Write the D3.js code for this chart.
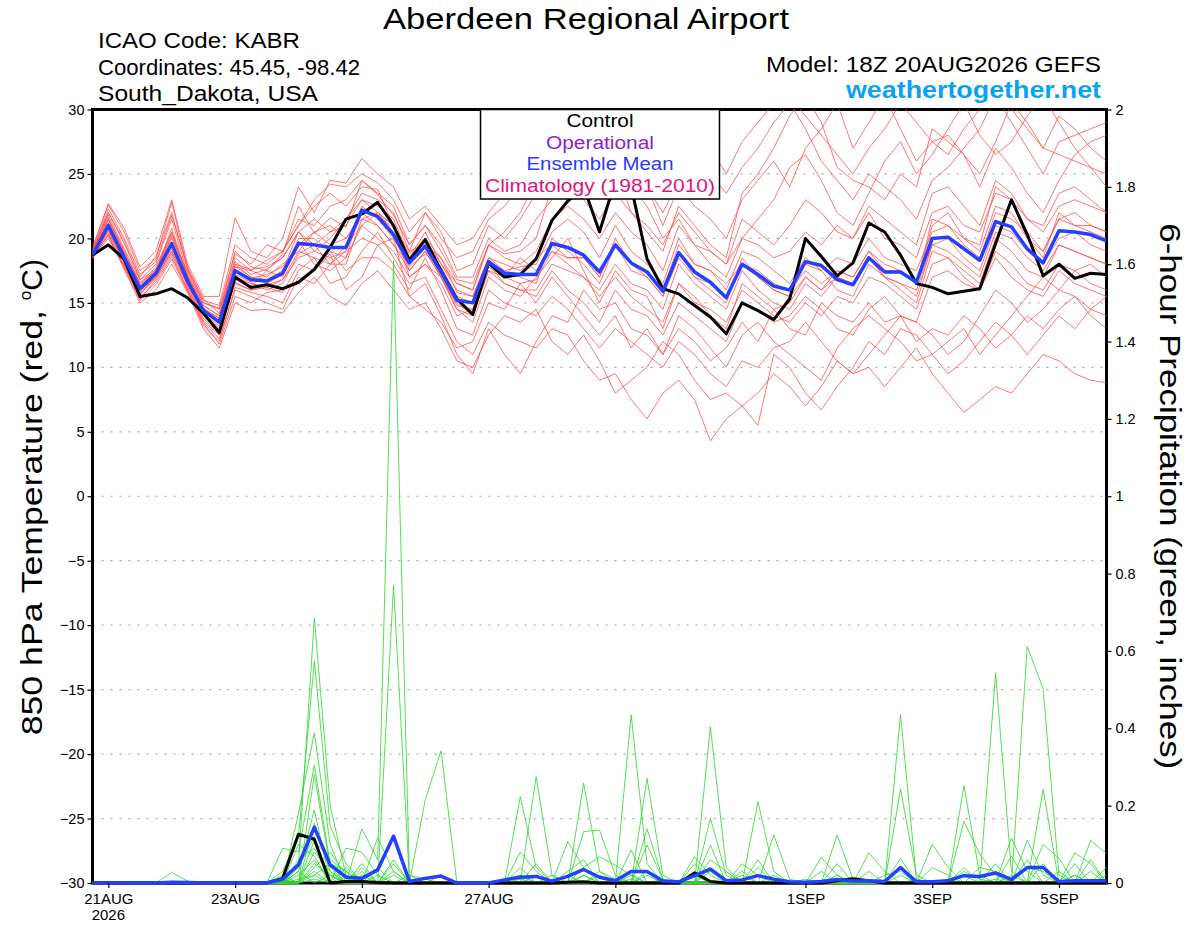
<!DOCTYPE html>
<html>
<head>
<meta charset="utf-8">
<script src="https://cdn.jsdelivr.net/npm/d3@7"></script>
<style>
  body { margin: 0; background: #fff; }
  svg { display: block; font-family: "Liberation Sans", Arial, sans-serif; }
</style>
</head>
<body>
<svg id="chart" width="1200" height="927"></svg>
<script>
// Forecast steps, hours after the 18Z 20AUG2026 run
const forecastHours = d3.range(0, 385, 6);

// Date ticks on the x axis
const tickHours = [6, 54, 102, 150, 198, 270, 318, 366];
const tickLabels = ["21AUG", "23AUG", "25AUG", "27AUG", "29AUG", "1SEP", "3SEP", "5SEP"];

// 850 hPa temperature, control run and ensemble mean (C)
const tempControl = [18.7,19.5,18.4,15.5,15.7,16.1,15.4,14.2,12.7, 17.0,16.2,16.4,16.1, 16.6,17.6,19.3,21.5,21.9,22.8, 21.0,18.3,19.9,17.5,15.3,14.1, 18.1,17.0,17.2,18.4,21.4,22.9, 24.0,20.5,24.5,24.0,18.4,16.1, 15.7,14.8,13.9,12.6,15.0,14.4, 13.7,15.3,20.0,18.6,17.1,18.1, 21.2,20.5,18.7,16.5,16.2,15.7, 15.9,16.1,19.6,23.0,20.3,17.1, 18.0,16.9,17.3,17.2];
const tempMean = [18.7,21.0,18.5,16.1,17.3,19.6,16.7,14.4,13.5, 17.5,16.8,16.7,17.3, 19.6,19.5,19.3,19.3,22.2,21.7, 20.3,18.1,19.4,17.4,15.2,15.0, 18.2,17.3,17.2,17.2,19.6,19.3, 18.7,17.4,19.5,18.1,17.4,15.9, 18.9,17.4,16.6,15.4,18.0,17.2, 16.3,16.0,18.2,17.9,16.8,16.4, 18.5,17.4,17.4,16.6,20.0,20.1, 19.2,18.3,21.3,20.9,19.2,18.1, 20.6,20.5,20.3,19.8];

// 850 hPa temperature, ensemble members (C)
const tempM01 = [19.2,22.6,20.5,17.5,18.4,22.8,17.6,15.3,14.2, 19.0,17.8,17.5,18.8, 22.5,20.4,21.6,20.9,24.5,23.4, 21.8,19.5,21.0,19.0,16.8,16.5, 19.5,18.8,19.0,20.0,24.0,26.0, 27.5,29.5,30.5,28.0,24.0,21.0, 24.0,22.5,21.5,20.0,23.0,24.5, 26.0,24.0,27.0,28.5,30.5,27.0, 29.0,31.0,28.5,26.0,27.5,28.0, 26.5,25.0,27.5,30.5,29.0,27.0, 29.5,28.5,27.0,26.0];
const tempM02 = [18.9,22.0,19.8,16.8,18.0,21.5,17.2,14.8,14.0, 18.5,17.5,18.3,19.0, 21.0,23.0,24.2,24.0,25.0,24.3, 23.0,20.5,22.0,20.5,17.5,18.0, 21.0,20.0,21.5,23.5,25.5,28.5, 30.5,27.0,25.5,22.0,20.5,19.0, 22.5,21.0,19.5,18.5,23.5,25.0, 27.0,29.5,31.0,29.0,25.5,24.5, 24.0,23.0,25.0,24.0,28.5,27.5, 26.5,24.0,27.0,25.5,23.5,22.0, 24.5,26.5,27.5,28.0];
const tempM03 = [18.5,20.6,18.0,15.4,16.6,18.6,16.0,13.2,12.0, 16.2,15.8,15.5,15.0, 17.5,18.5,16.5,17.0,19.0,20.5, 18.5,16.5,17.0,14.5,12.0,11.0, 13.5,12.5,12.0,11.5,13.0,12.5, 10.5,9.0,9.5,7.5,6.0,8.0, 9.0,7.5,4.3,6.0,7.0,8.0, 9.5,8.5,7.0,8.5,10.5,9.5, 10.0,8.5,10.0,11.5,9.5,8.0, 6.5,7.5,8.5,8.0,9.5,11.0, 10.5,9.5,9.0,8.8];
const tempM04 = [18.6,20.2,17.6,15.0,16.0,18.0,15.8,13.0,11.5, 15.0,14.4,14.5,14.2, 15.8,17.0,15.5,14.8,16.5,17.5, 16.0,14.5,15.0,13.0,10.5,10.0, 12.5,14.0,13.5,14.5,12.0,11.0, 12.5,10.5,8.0,9.0,10.0,12.0, 11.0,9.0,7.5,8.0,7.0,5.5, 11.0,10.0,8.0,6.7,8.5,10.0, 12.0,11.0,13.0,12.5,11.0,9.5, 10.5,12.0,13.5,12.5,11.0,12.5, 14.0,13.0,14.5,15.5];
const tempM05 = [18.8,21.2,18.6,16.0,17.0,19.0,16.4,14.0,12.8, 16.5,16.0,16.2,15.8, 18.0,17.5,18.8,16.0,17.0,19.5, 20.0,15.5,14.5,13.5,11.5,12.0, 15.0,14.5,16.5,15.0,17.0,15.5, 14.0,12.5,14.0,11.5,13.0,11.0, 13.0,12.0,10.5,11.5,13.5,12.0, 14.5,13.0,12.5,15.0,14.0,13.5, 15.0,13.5,14.0,12.0,13.0,12.5, 14.0,13.0,11.5,12.5,14.0,13.0, 14.5,15.5,14.0,13.0];
const tempM06 = [18.7,21.5,19.0,16.5,17.8,20.5,17.0,14.6,13.8, 18.0,17.0,16.8,17.5, 20.5,19.0,20.0,21.5,23.0,22.5, 21.5,18.5,20.5,18.0,16.0,15.5, 18.5,17.5,17.0,16.5,20.0,19.0, 18.0,16.5,19.5,17.5,17.0,15.5, 19.0,17.0,16.0,15.0,18.5,17.0, 16.0,15.5,18.0,17.5,16.0,15.5, 18.0,17.0,16.5,16.0,19.5,20.0, 18.5,17.5,21.0,20.5,19.0,18.0, 20.0,20.5,19.5,19.0];
const tempM07 = [18.9,21.8,19.2,16.8,17.6,20.0,17.4,15.0,14.5, 17.8,17.5,17.0,18.0, 19.0,20.5,19.5,20.0,21.5,22.0, 20.5,17.5,19.0,17.0,14.5,13.5, 17.0,16.0,15.5,17.0,18.5,20.0, 17.5,15.0,17.5,16.0,15.5,13.0, 16.5,15.5,14.0,13.0,16.5,15.5, 14.5,15.0,17.0,16.0,17.5,17.0, 19.0,18.0,17.5,16.5,21.0,22.0, 20.0,19.5,24.0,23.0,20.0,18.5, 22.0,21.0,20.5,20.0];
const tempM08 = [18.4,20.4,17.8,15.6,17.2,19.5,16.2,13.6,12.5, 16.8,16.3,17.5,17.0, 19.8,18.0,17.5,18.5,21.0,20.0, 19.0,17.0,18.0,16.5,14.0,14.5, 18.0,16.5,16.0,15.5,17.5,16.0, 15.0,13.5,16.0,14.5,14.0,12.5, 15.0,14.0,13.0,12.0,15.0,14.5, 13.5,14.0,15.5,14.5,13.0,12.5, 14.5,15.5,14.0,13.5,17.0,17.5, 16.5,16.0,18.5,17.0,16.0,15.5, 17.5,16.5,16.0,15.5];
const tempM09 = [19.0,22.3,20.0,17.2,18.2,21.8,17.8,15.2,14.8, 19.5,18.5,18.0,19.0, 21.5,21.0,22.5,23.0,24.5,23.5, 22.5,19.5,21.0,19.5,17.0,17.0, 20.0,19.0,19.5,21.5,23.0,24.5, 23.0,21.5,23.5,22.0,21.0,19.5, 22.0,20.5,19.0,18.0,21.5,20.5, 19.5,21.0,23.0,22.0,20.5,20.0, 22.5,21.5,20.5,19.5,23.5,24.0, 22.5,21.0,24.5,23.5,21.5,21.0, 23.5,24.0,23.0,22.0];
const tempM10 = [18.6,20.8,18.2,15.8,17.0,19.2,16.6,14.2,13.0, 17.2,16.6,16.0,16.5, 18.8,19.5,18.0,18.0,21.5,21.0, 19.5,18.0,19.5,17.0,15.0,14.0, 17.5,17.0,18.5,17.5,19.0,18.0, 17.0,16.0,18.0,16.5,16.0,14.5, 18.0,16.5,15.5,14.5,17.5,16.0, 15.0,14.5,16.5,15.5,17.0,16.5, 18.5,17.0,16.0,15.0,19.0,18.5, 17.5,16.5,20.0,19.0,17.5,17.0, 19.5,19.0,18.5,18.0];
const tempM11 = [19.1,22.0,19.6,17.0,18.6,22.0,17.6,15.0,14.6, 18.8,18.0,19.5,19.0, 21.0,22.5,23.5,22.5,24.0,23.8, 21.0,19.0,22.0,20.0,18.5,19.0, 21.5,22.5,24.0,26.0,27.5,26.0, 25.0,23.0,24.5,26.0,24.0,22.0, 24.5,26.0,25.0,23.5,25.5,27.0, 29.0,30.5,28.5,26.0,24.5,23.0, 25.0,24.0,23.0,21.5,24.5,25.5, 27.0,28.5,31.0,29.0,27.0,25.0, 27.5,28.0,28.5,29.0];
const tempM12 = [18.5,20.0,17.9,15.3,16.8,18.8,16.0,13.5,12.2, 16.0,15.5,15.0,14.5, 17.0,16.5,18.0,19.0,20.0,19.5, 18.0,16.0,18.5,16.0,13.0,12.5, 16.0,15.0,14.5,14.0,15.5,14.5, 13.0,11.5,13.0,12.0,11.0,10.0, 12.0,11.0,9.5,8.5,10.5,10.0, 11.5,12.0,13.5,12.0,10.5,9.5, 11.0,12.5,14.0,13.5,12.5,11.0, 12.0,14.0,16.0,15.0,13.5,14.5, 16.0,15.5,14.5,14.0];
const tempM13 = [18.8,21.4,18.8,16.3,17.5,20.2,17.0,14.5,13.6, 17.8,17.0,16.5,17.2, 20.0,20.0,19.0,18.5,22.5,21.5, 20.0,17.8,18.8,17.8,15.5,15.0, 18.0,17.5,17.8,18.0,20.5,21.5, 20.5,18.5,21.0,19.0,18.0,16.5, 20.0,18.0,17.5,16.0,19.0,18.5, 17.5,16.5,18.5,17.5,18.5,18.0, 20.0,18.5,18.0,17.5,20.5,21.0, 19.5,18.5,22.0,21.5,20.5,19.0, 21.5,22.0,21.0,20.5];
const tempM14 = [18.7,21.0,18.4,16.0,17.2,19.6,16.8,14.6,13.4, 17.5,16.9,17.2,17.8, 19.5,20.5,21.0,20.0,22.0,21.8, 20.8,18.8,20.0,18.5,15.8,15.5, 18.5,18.0,17.5,18.5,19.5,18.5, 18.5,17.0,20.0,18.0,17.5,16.0, 19.5,18.0,17.5,16.5,18.0,17.5, 16.5,16.0,17.5,16.5,17.5,17.0, 19.0,17.5,17.5,16.5,21.5,21.0, 20.0,19.0,22.5,22.0,20.0,19.0, 21.5,21.0,21.0,20.5];
const tempM15 = [18.9,21.6,19.0,16.4,17.6,20.4,17.2,14.8,14.0, 18.2,17.2,17.6,18.5, 20.5,21.5,20.5,21.0,23.0,22.0, 21.0,18.5,20.0,18.0,16.5,16.0, 19.5,20.5,22.0,24.5,27.0,29.0, 31.0,28.0,26.5,24.0,22.5,20.0, 21.5,19.5,18.0,17.0,20.0,21.5, 23.0,25.5,26.5,24.5,22.0,21.0, 23.5,26.0,27.5,25.0,26.5,28.5, 30.5,28.0,26.5,27.5,29.5,31.0, 29.0,27.0,25.5,24.0];
const tempM16 = [18.5,20.3,17.7,15.2,16.4,18.4,15.9,13.4,11.8, 15.5,15.0,15.8,16.0, 16.5,17.5,19.0,17.5,18.5,18.5, 17.5,15.5,16.5,14.0,11.0,9.5, 13.0,11.0,9.5,12.0,14.0,13.5, 16.0,14.5,15.0,13.0,12.5,11.0, 14.0,13.0,11.5,10.0,12.5,13.5, 12.0,11.0,10.0,9.0,11.5,13.0, 14.0,13.0,12.0,10.5,11.0,12.0, 13.0,11.0,12.5,14.0,15.5,17.0, 16.0,17.5,18.0,17.0];
const tempM17 = [19.3,22.7,20.8,17.8,19.0,23.0,18.0,15.5,15.5, 21.6,19.0,18.5,20.0, 24.0,22.0,24.5,24.3,26.2,25.0, 24.0,21.5,22.5,21.0,19.5,20.0, 22.0,23.5,25.0,27.0,29.5,30.5, 29.0,26.5,28.0,27.0,25.5,23.5, 26.0,28.0,27.0,25.0,27.5,29.0, 30.5,31.0,29.5,28.0,26.5,25.0, 27.0,28.5,30.5,29.0,27.5,26.5, 28.5,30.0,31.0,30.0,28.5,27.0, 26.5,26.0,25.5,25.0];
const tempM18 = [18.6,20.6,18.1,15.7,16.9,19.0,16.3,13.8,12.6, 16.6,16.0,16.4,16.8, 19.0,18.5,18.0,19.5,21.0,22.0, 21.0,17.0,18.0,17.0,14.5,14.0, 17.5,16.5,16.0,16.0,18.0,17.5, 17.0,15.5,17.0,15.5,14.5,13.5, 16.5,15.0,14.5,13.5,16.0,15.0, 14.0,13.5,15.0,14.0,15.5,15.0, 17.0,16.5,15.5,14.5,18.0,18.5, 17.0,16.0,19.0,18.0,16.5,16.0, 18.0,17.5,16.5,16.0];
const tempM19 = [18.8,21.2,18.9,16.6,17.4,20.8,17.0,14.5,13.8, 18.0,17.6,17.8,18.5, 20.5,19.5,20.5,21.5,23.5,23.0, 22.0,19.0,19.5,18.5,16.5,16.0, 19.5,18.5,18.0,19.0,21.5,22.5, 21.5,20.0,22.0,20.5,19.5,17.5, 21.0,19.5,19.0,18.0,20.0,19.5, 18.5,19.0,20.5,19.5,21.0,20.0, 22.0,20.0,19.5,18.5,22.0,22.5, 21.0,20.5,23.5,23.0,21.5,20.5, 22.5,23.0,22.5,22.0];
const tempM20 = [18.7,20.9,18.3,15.9,17.1,19.4,16.5,14.2,13.2, 17.0,16.5,16.2,16.8, 18.5,19.0,18.5,19.0,22.0,21.0, 19.5,17.5,19.0,17.0,14.8,14.5, 17.8,17.0,16.5,16.8,19.0,18.5, 18.5,17.0,19.5,18.0,17.0,15.5, 18.5,17.0,16.5,15.5,18.0,17.0, 16.0,15.5,17.0,16.0,17.0,16.5, 18.5,17.0,16.5,15.5,19.5,19.0, 18.0,17.0,20.5,20.0,18.5,17.5, 19.5,19.0,18.5,18.0];

// 6-hour precipitation, control run and ensemble mean (inches)
const precControl = [0,0,0,0,0,0,0,0,0,0,0,0,0.012, 0.126,0.113,0,0.004,0.004,0.001,0,0,0,0,0,0,0, 0,0,0,0,0.002,0.003,0,0,0,0,0,0,0.026, 0.004,0,0,0,0,0,0,0,0.006,0.011,0.006,0,0, 0,0,0,0,0,0,0,0,0,0,0,0,0];
const precMean = [0,0,0,0,0,0.002,0.001,0,0,0,0,0,0.01, 0.047,0.144,0.047,0.015,0.012,0.034,0.121,0.004,0.012,0.018,0,0,0, 0.008,0.015,0.017,0.005,0.017,0.035,0.015,0.006,0.03,0.03,0.005,0.003,0.019, 0.036,0.006,0.008,0.019,0.01,0.003,0.002,0.004,0.009,0.005,0.006,0.004,0.04, 0.003,0.003,0.006,0.019,0.017,0.026,0.009,0.04,0.04,0.004,0.006,0.006,0.006];

// 6-hour precipitation, ensemble members (inches)
const precM01 = [0,0,0,0,0,0,0,0,0,0,0,0,0, 0.05,0.685,0.2,0.02,0,0,0,0,0,0,0,0,0, 0,0.02,0,0,0,0.258,0.03,0,0,0,0,0,0, 0.098,0,0,0,0,0,0,0,0,0,0,0,0.064, 0,0,0,0,0,0.543,0.03,0,0,0,0.02,0,0];
const precM02 = [0,0,0,0,0,0,0,0,0,0,0,0,0.03, 0.12,0.573,0.147,0.05,0,0,0.05,0,0,0,0,0,0, 0,0,0.275,0.02,0,0,0,0,0.085,0,0,0,0, 0,0,0,0.21,0.03,0,0,0,0,0,0,0,0, 0,0,0,0,0,0,0,0.611,0.502,0.02,0,0,0];
const precM03 = [0,0,0,0,0,0,0,0,0,0,0,0,0, 0.18,0.388,0.1,0,0.14,0.06,1.61,0.02,0,0,0,0,0, 0,0,0,0,0,0,0,0,0,0.27,0.02,0,0, 0,0,0,0,0,0,0,0,0,0,0,0,0, 0,0,0,0.252,0.02,0,0,0,0,0,0,0,0];
const precM04 = [0,0,0,0,0,0,0,0,0,0,0,0,0.09, 0.08,0.305,0.05,0,0,0,0.77,0.01,0,0,0,0,0, 0,0,0,0,0,0,0,0,0,0,0,0,0, 0.404,0.04,0,0,0,0,0,0,0,0,0,0,0.435, 0.01,0,0,0,0,0,0,0,0,0,0,0,0];
const precM05 = [0,0,0,0,0,0,0,0,0,0,0,0,0, 0,0.28,0.04,0,0,0,0,0,0.215,0.342,0,0,0, 0,0,0,0,0,0.133,0.137,0.02,0,0,0,0,0, 0,0,0,0,0,0,0,0,0.124,0.01,0,0,0, 0,0,0,0,0,0,0,0,0.243,0,0,0,0];
const precM06 = [0,0,0,0,0,0.027,0.005,0,0,0,0,0,0, 0.03,0.189,0,0.09,0.08,0.02,0,0,0,0,0,0,0, 0,0.223,0.04,0,0,0,0,0,0.435,0.05,0,0,0, 0,0,0,0,0,0,0,0,0,0,0,0,0, 0,0,0,0,0,0,0,0,0,0,0,0.11,0.076];
const precM07 = [0,0,0,0,0,0,0,0,0,0,0,0,0, 0,0.155,0.03,0,0,0.117,0.03,0,0,0,0,0,0, 0,0,0,0,0.107,0.04,0,0,0,0,0,0,0, 0.167,0.02,0,0,0,0,0,0,0,0,0,0,0.243, 0.02,0,0,0,0,0,0,0,0,0,0,0,0];
const precM08 = [0,0,0,0,0,0,0,0,0,0,0,0,0, 0.02,0.06,0,0,0.04,0,0.06,0,0,0,0,0,0, 0,0.08,0.03,0,0,0,0,0,0,0.14,0.01,0,0, 0,0,0,0,0.124,0.01,0,0,0,0,0,0,0, 0,0,0,0.159,0.075,0.02,0,0,0,0,0,0,0];
const precM09 = [0,0,0,0,0,0,0,0,0,0,0,0,0.01, 0,0.11,0.06,0.03,0,0,0,0,0,0,0,0,0, 0,0,0,0.01,0,0.04,0.068,0.046,0.02,0,0,0,0, 0,0,0,0,0,0,0,0.066,0.02,0,0,0,0, 0,0,0,0,0,0,0.116,0.03,0,0,0,0,0];
const precM10 = [0,0,0,0,0,0,0,0,0,0,0,0,0, 0.06,0.09,0.02,0,0,0,0,0.02,0.01,0,0,0,0, 0,0,0,0,0,0,0,0,0,0.098,0.01,0,0.068, 0.02,0,0,0,0,0,0,0,0,0,0.078,0.03,0, 0,0,0,0,0,0,0,0.11,0.02,0,0,0,0];
const precM11 = [0,0,0,0,0,0,0,0,0,0,0,0,0, 0,0.04,0.08,0.02,0,0,0,0,0,0,0,0,0, 0.01,0.02,0,0,0,0,0,0,0,0,0,0,0.05, 0,0,0,0.06,0,0,0,0,0,0,0,0,0, 0,0.1,0.04,0,0,0,0,0,0,0,0.078,0.05,0];
const precM12 = [0,0,0,0,0,0,0,0,0,0,0,0,0, 0.04,0.12,0,0,0.03,0,0,0,0,0,0,0,0, 0,0,0.02,0,0.03,0.06,0,0,0,0,0,0,0, 0,0,0.05,0.02,0,0,0,0,0,0,0,0,0, 0,0,0,0.04,0,0,0,0,0.1,0.064,0,0,0.04];
const precM13 = [0,0,0,0,0,0,0,0,0,0,0,0,0, 0,0.02,0.05,0.03,0,0.04,0,0,0,0,0,0,0, 0,0,0,0,0,0,0.03,0.01,0,0,0,0,0, 0.06,0.03,0,0,0,0,0,0,0.05,0,0,0,0, 0,0,0,0,0.04,0.03,0,0,0,0.03,0,0,0];
const precM14 = [0,0,0,0,0,0,0,0,0,0,0,0,0, 0.1,0.07,0,0,0.05,0,0.02,0,0,0,0,0,0, 0,0.04,0,0.02,0,0,0,0,0,0.03,0,0,0.03, 0,0,0,0.04,0,0,0,0,0,0,0,0.02,0.03, 0,0,0,0,0,0,0.07,0,0,0,0,0.03,0];
const precM15 = [0,0,0,0,0,0,0,0,0,0,0,0,0.02, 0,0.03,0,0.04,0,0,0,0,0,0,0,0,0, 0,0,0,0,0,0.02,0,0,0.02,0,0,0,0, 0.04,0,0,0,0,0,0.01,0,0,0,0.03,0,0, 0,0.04,0.02,0,0,0,0,0.06,0,0,0.05,0,0];
const precM16 = [0,0,0,0,0,0,0,0,0,0,0,0,0, 0,0.05,0.02,0,0,0,0.03,0,0,0,0,0,0, 0,0,0.05,0,0,0,0,0,0,0,0.01,0,0, 0,0,0.02,0,0,0,0,0.03,0,0,0,0,0, 0,0,0,0.02,0,0.05,0,0,0,0,0,0,0.02];
const precM17 = [0,0,0,0,0,0,0,0,0,0,0,0,0, 0.01,0.02,0,0,0,0,0,0,0,0.02,0,0,0, 0,0,0,0,0,0.02,0,0,0,0,0,0,0, 0.03,0,0,0,0,0,0,0,0.02,0,0,0,0.02, 0,0,0,0,0,0,0,0.04,0.03,0,0,0,0];
const precM18 = [0,0,0,0,0,0,0,0,0,0,0,0,0, 0,0.08,0.03,0,0,0.02,0,0,0,0,0,0,0, 0,0,0,0,0,0,0.02,0,0,0,0,0,0, 0,0,0,0,0.02,0,0,0,0,0,0,0,0, 0,0,0,0.03,0.01,0,0.02,0,0,0,0,0.06,0];
const precM19 = [0,0,0,0,0,0,0,0,0,0,0,0,0, 0.03,0,0.02,0,0.02,0,0,0,0,0,0,0,0, 0,0,0,0,0.02,0,0,0,0,0.02,0,0,0, 0,0,0.03,0,0,0,0,0,0,0,0,0,0, 0,0,0.01,0,0,0,0,0,0.05,0,0,0,0];
const precM20 = [0,0,0,0,0,0,0,0,0,0,0,0,0, 0,0.01,0,0.02,0,0,0,0,0,0,0,0,0, 0,0.01,0,0,0,0,0,0,0.01,0,0,0,0.02, 0,0,0,0,0,0,0,0,0,0,0,0,0, 0.01,0,0,0,0,0.01,0,0,0,0,0.02,0,0];

const tempMembers = [tempM01, tempM02, tempM03, tempM04, tempM05, tempM06, tempM07, tempM08, tempM09, tempM10,
  tempM11, tempM12, tempM13, tempM14, tempM15, tempM16, tempM17, tempM18, tempM19, tempM20];
const precMembers = [precM01, precM02, precM03, precM04, precM05, precM06, precM07, precM08, precM09, precM10,
  precM11, precM12, precM13, precM14, precM15, precM16, precM17, precM18, precM19, precM20];

const legendLabels = ["Control", "Operational", "Ensemble Mean", "Climatology (1981-2010)"];
const legendColors = ["#000000", "#8a1ed8", "#2a3cf2", "#e2127f"];

// Plot box
const plot = { left: 92.5, right: 1106.5, top: 109.5, bottom: 883 };

const svg = d3.select("#chart");

// Scales
const x = d3.scaleLinear()
  .domain([0, 384])
  .range([plot.left, plot.right]);

const yTemp = d3.scaleLinear()
  .domain([-30, 30])
  .range([plot.bottom, plot.top]);

const yPrec = d3.scaleLinear()
  .domain([0, 2])
  .range([plot.bottom, plot.top]);

// Dotted grid on the temperature ticks
svg.append("g")
  .selectAll("line")
  .data(d3.range(-25, 30, 5))
  .enter()
  .append("line")
  .attr("x1", plot.left)
  .attr("x2", plot.right)
  .attr("y1", d => yTemp(d))
  .attr("y2", d => yTemp(d))
  .attr("stroke", "#a8a8a8")
  .attr("stroke-width", 1.2)
  .attr("stroke-dasharray", "2,7");

// Frame
svg.append("rect")
  .attr("x", plot.left)
  .attr("y", plot.top)
  .attr("width", plot.right - plot.left)
  .attr("height", plot.bottom - plot.top)
  .attr("fill", "none")
  .attr("stroke", "#000")
  .attr("stroke-width", 3);

svg.append("clipPath")
  .attr("id", "plotClip")
  .append("rect")
  .attr("x", plot.left)
  .attr("y", plot.top)
  .attr("width", plot.right - plot.left)
  .attr("height", plot.bottom - plot.top + 2);

const lines = svg.append("g").attr("clip-path", "url(#plotClip)");

const tempLine = d3.line()
  .x((d, i) => x(forecastHours[i]))
  .y(d => yTemp(d));

const precLine = d3.line()
  .x((d, i) => x(forecastHours[i]))
  .y(d => yPrec(d));

// Ensemble members
lines.selectAll("path.temp-member")
  .data(tempMembers)
  .enter()
  .append("path")
  .attr("class", "temp-member")
  .attr("d", tempLine)
  .attr("fill", "none")
  .attr("stroke", "#ff4a4a")
  .attr("stroke-opacity", 0.85)
  .attr("stroke-width", 0.9);

lines.selectAll("path.prec-member")
  .data(precMembers)
  .enter()
  .append("path")
  .attr("class", "prec-member")
  .attr("d", precLine)
  .attr("fill", "none")
  .attr("stroke", "#2bd82b")
  .attr("stroke-opacity", 0.9)
  .attr("stroke-width", 0.9);

// Control and mean
const mainLines = [
  { values: tempControl, line: tempLine, color: "#000", width: 3 },
  { values: tempMean, line: tempLine, color: "#2440ff", width: 3.5 },
  { values: precControl, line: precLine, color: "#000", width: 3 },
  { values: precMean, line: precLine, color: "#2440ff", width: 3.5 }
];
mainLines.forEach(s => {
  lines.append("path")
    .attr("d", s.line(s.values))
    .attr("fill", "none")
    .attr("stroke", s.color)
    .attr("stroke-width", s.width)
    .attr("stroke-linejoin", "round");
});

// Axes
const axisLeft = svg.append("g")
  .attr("transform", `translate(${plot.left},0)`)
  .call(d3.axisLeft(yTemp).tickValues(d3.range(-30, 31, 5)).tickSize(5).tickPadding(3).tickSizeOuter(0));

const axisRight = svg.append("g")
  .attr("transform", `translate(${plot.right},0)`)
  .call(d3.axisRight(yPrec).tickValues(d3.range(0, 2.01, 0.2)).tickFormat(d => +d.toFixed(1)).tickSize(5).tickPadding(4).tickSizeOuter(0));

const axisBottom = svg.append("g")
  .attr("transform", `translate(0,${plot.bottom})`)
  .call(d3.axisBottom(x).tickValues(tickHours).tickFormat((d, i) => tickLabels[i]).tickSize(5).tickPadding(5).tickSizeOuter(0));

[axisLeft, axisRight, axisBottom].forEach(a => {
  a.select(".domain").remove();
  a.selectAll(".tick line").attr("stroke", "#000").attr("stroke-width", 1.2);
  a.selectAll("text").attr("fill", "#000").style("font-family", "Liberation Sans, Arial, sans-serif");
});
axisLeft.selectAll("text").style("font-size", "14.5px");
axisRight.selectAll("text").style("font-size", "14.5px");
axisBottom.selectAll("text").style("font-size", "15px");

svg.append("text")
  .attr("x", x(tickHours[0]))
  .attr("y", 920)
  .attr("text-anchor", "middle")
  .style("font-size", "15px")
  .text("2026");

// Text stretched to a measured width, like the wide font of the original
function wideText(parent, label, x0, y0, width, size) {
  return parent.append("text")
    .attr("x", x0)
    .attr("y", y0)
    .attr("textLength", width)
    .attr("lengthAdjust", "spacingAndGlyphs")
    .style("font-size", size + "px")
    .text(label);
}

// Legend box
const legend = svg.append("g");
legend.append("rect")
  .attr("x", 480.5)
  .attr("y", plot.top)
  .attr("width", 239)
  .attr("height", 89.5)
  .attr("fill", "#fff")
  .attr("stroke", "#000")
  .attr("stroke-width", 1.5);

const legendWidths = [67, 108, 147, 230];
legendLabels.forEach((label, i) => {
  wideText(legend, label, 600 - legendWidths[i] / 2, 127 + i * 21.6, legendWidths[i], 18)
    .attr("fill", legendColors[i]);
});

// Titles
wideText(svg, "Aberdeen Regional Airport", 383, 29, 406, 30);

wideText(svg, "ICAO Code: KABR", 98, 48, 202, 22);
wideText(svg, "Coordinates: 45.45, -98.42", 98, 74.5, 262, 22);
wideText(svg, "South_Dakota, USA", 98, 101, 220, 22);
wideText(svg, "Model: 18Z 20AUG2026 GEFS", 766, 72, 335, 22);
wideText(svg, "weathertogether.net", 846, 98, 255, 23)
  .attr("fill", "#0aa2f5")
  .style("font-weight", "bold");

// Axis titles
const midY = (plot.top + plot.bottom) / 2;
const leftTitle = svg.append("text")
  .attr("transform", `translate(42,${midY + 239}) rotate(-90)`)
  .style("font-size", "30px");
leftTitle.append("tspan")
  .attr("textLength", 435)
  .attr("lengthAdjust", "spacingAndGlyphs")
  .text("850 hPa Temperature (red, ");
leftTitle.append("tspan").attr("dy", -11).style("font-size", "17px").text("o");
leftTitle.append("tspan").attr("dy", 11).text("C)");

svg.append("text")
  .attr("transform", `translate(1160,${midY - 273}) rotate(90)`)
  .attr("textLength", 546)
  .attr("lengthAdjust", "spacingAndGlyphs")
  .style("font-size", "30px")
  .text("6-hour Precipitation (green, inches)");
</script>
</body>
</html>
